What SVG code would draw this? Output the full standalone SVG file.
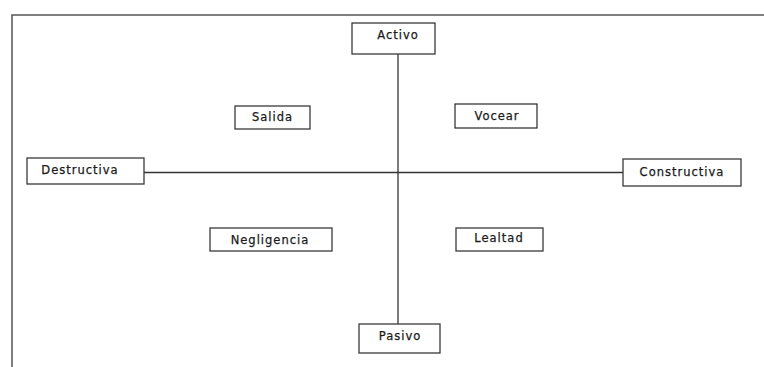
<svg xmlns="http://www.w3.org/2000/svg" width="764" height="367" viewBox="0 0 764 367">
<style>
.box{fill:#fff;stroke:#3a3a3a;stroke-width:1.3}
.lbl{font-family:"DejaVu Sans","Liberation Sans",sans-serif;font-size:11.5px;fill:#1a1a1a;stroke:#1a1a1a;stroke-width:0.25;text-anchor:middle;dominant-baseline:central;letter-spacing:1px}
.ln{stroke:#333;stroke-width:1.3;fill:none}
.frame{stroke:#555;stroke-width:1.5;fill:none}
</style>
<rect width="764" height="367" fill="#fff"/>
<path class="frame" d="M12,367 V15 H764"/>
<g id="connectors">
<line class="ln" x1="398" y1="54" x2="398" y2="324"/>
<line class="ln" x1="144" y1="172.5" x2="623" y2="172.5"/>
</g>
<g id="activo"><rect class="box" x="352" y="23" width="83" height="31"/><text class="lbl" x="398" y="35">Activo</text></g>
<g id="pasivo"><rect class="box" x="359" y="324" width="81" height="29"/><text class="lbl" x="400" y="336">Pasivo</text></g>
<g id="destructiva"><rect class="box" x="27" y="158" width="117" height="26"/><text class="lbl" x="80" y="170">Destructiva</text></g>
<g id="constructiva"><rect class="box" x="623" y="159" width="118" height="27"/><text class="lbl" x="682" y="172">Constructiva</text></g>
<g id="salida"><rect class="box" x="235" y="106" width="75" height="23"/><text class="lbl" x="272.5" y="117">Salida</text></g>
<g id="vocear"><rect class="box" x="455" y="104" width="82" height="24"/><text class="lbl" x="497" y="116">Vocear</text></g>
<g id="negligencia"><rect class="box" x="210" y="228" width="122" height="23"/><text class="lbl" x="270" y="239.5">Negligencia</text></g>
<g id="lealtad"><rect class="box" x="456" y="228" width="87" height="23"/><text class="lbl" x="499" y="238">Lealtad</text></g>
</svg>
